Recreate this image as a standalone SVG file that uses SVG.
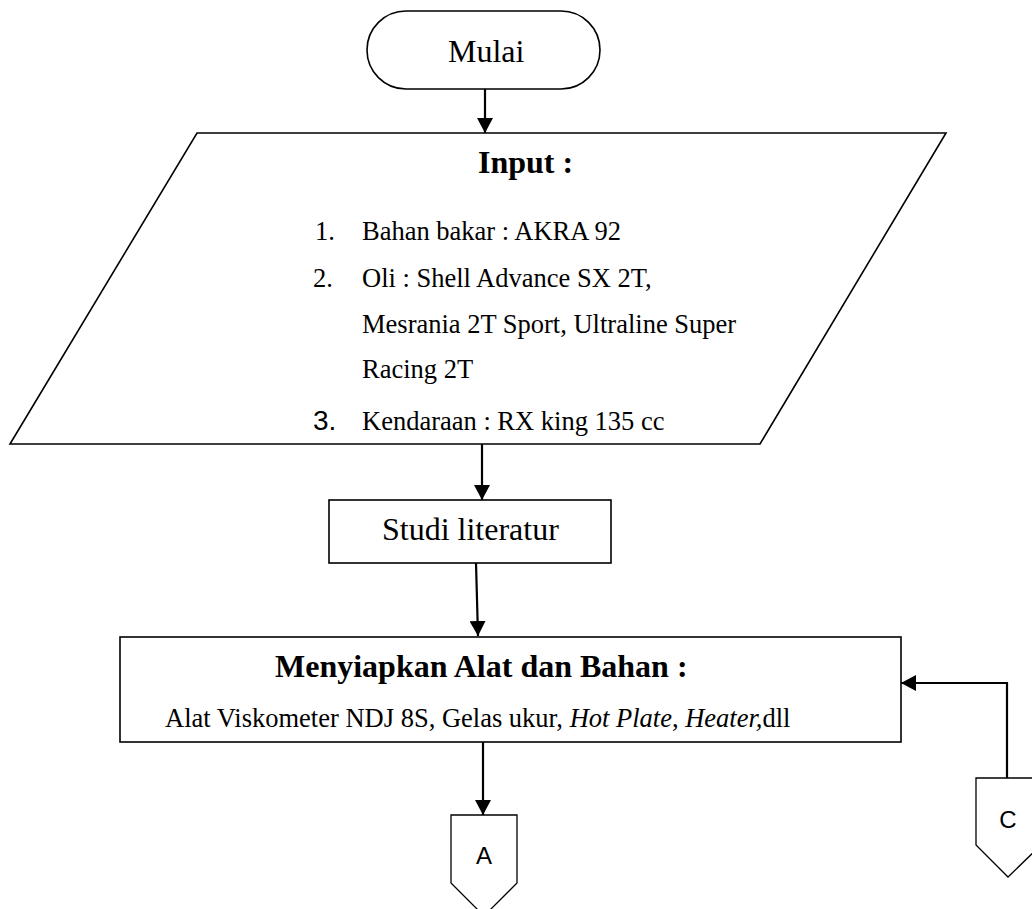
<svg xmlns="http://www.w3.org/2000/svg" width="1032" height="909" viewBox="0 0 1032 909">
  <style>
    .shape { fill: #ffffff; stroke: #000000; stroke-width: 1.6; }
    .thin { fill: #ffffff; stroke: #000000; stroke-width: 1.3; }
    .conn { fill: none; stroke: #000000; stroke-width: 2.2; }
    .serif { font-family: "Liberation Serif", "Times New Roman", serif; fill: #000000; }
    .big { font-size: 32px; }
    .small { font-size: 26.5px; }
    .bold { font-weight: bold; }
    .sans { font-family: "Liberation Sans", Arial, sans-serif; fill: #000000; }
  </style>
  <defs>
    <marker id="arrow" viewBox="0 0 15 16" refX="15" refY="8" markerWidth="15" markerHeight="16" markerUnits="userSpaceOnUse" orient="auto">
      <path d="M0,0 L15,8 L0,16 z" fill="#000000"/>
    </marker>
  </defs>

  <rect width="1032" height="909" fill="#ffffff"/>

  <!-- flow lines -->
  <g id="connectors">
    <line class="conn" x1="485" y1="89" x2="485" y2="133" marker-end="url(#arrow)"/>
    <line class="conn" x1="482" y1="444" x2="482" y2="500" marker-end="url(#arrow)"/>
    <line class="conn" x1="476" y1="563" x2="478" y2="636" marker-end="url(#arrow)"/>
    <line class="conn" x1="483" y1="742" x2="483" y2="815" marker-end="url(#arrow)"/>
    <polyline class="conn" points="1007,778 1007,683 901,683" marker-end="url(#arrow)"/>
  </g>

  <!-- start -->
  <g id="mulai">
    <rect class="shape" x="367" y="11" width="233" height="78" rx="39" ry="39"/>
    <text class="serif big" x="448" y="62">Mulai</text>
  </g>

  <!-- input data -->
  <g id="input">
    <polygon class="shape" points="197,133 946,133 760,444 10,444"/>
    <text class="serif big bold" x="478" y="173">Input :</text>
    <text class="serif small" x="315" y="240">1.</text>
    <text class="serif small" x="362" y="240">Bahan bakar : AKRA 92</text>
    <text class="serif small" x="313" y="287">2.</text>
    <text class="serif small" x="362" y="287">Oli : Shell Advance SX 2T,</text>
    <text class="serif small" x="362" y="333">Mesrania 2T Sport, Ultraline Super</text>
    <text class="serif small" x="362" y="378">Racing 2T</text>
    <text class="sans" font-size="28" x="313" y="430">3.</text>
    <text class="serif small" x="362" y="430">Kendaraan : RX king 135 cc</text>
  </g>

  <!-- literature study -->
  <g id="studi">
    <rect class="shape" x="329" y="500" width="282" height="63"/>
    <text class="serif big" x="382" y="540">Studi literatur</text>
  </g>

  <!-- tools and materials -->
  <g id="menyiapkan">
    <rect class="shape" x="120" y="637" width="781" height="105"/>
    <text class="serif big bold" x="275" y="677">Menyiapkan Alat dan Bahan :</text>
    <text class="serif small" x="165" y="727">Alat Viskometer NDJ 8S, Gelas ukur, <tspan font-style="italic">Hot Plate</tspan>, <tspan font-style="italic">Heater,</tspan>dll</text>
  </g>

  <!-- off-page connector A -->
  <g id="conn-a">
    <polygon class="thin" points="451,815 517,815 517,883 484,916 451,883"/>
    <text class="sans" font-size="24" x="484" y="864" text-anchor="middle">A</text>
  </g>

  <!-- off-page connector C -->
  <g id="conn-c">
    <polygon class="thin" points="976,778 1041,778 1041,845 1008,877 976,845"/>
    <text class="sans" font-size="24" x="1008" y="828" text-anchor="middle">C</text>
  </g>
</svg>
